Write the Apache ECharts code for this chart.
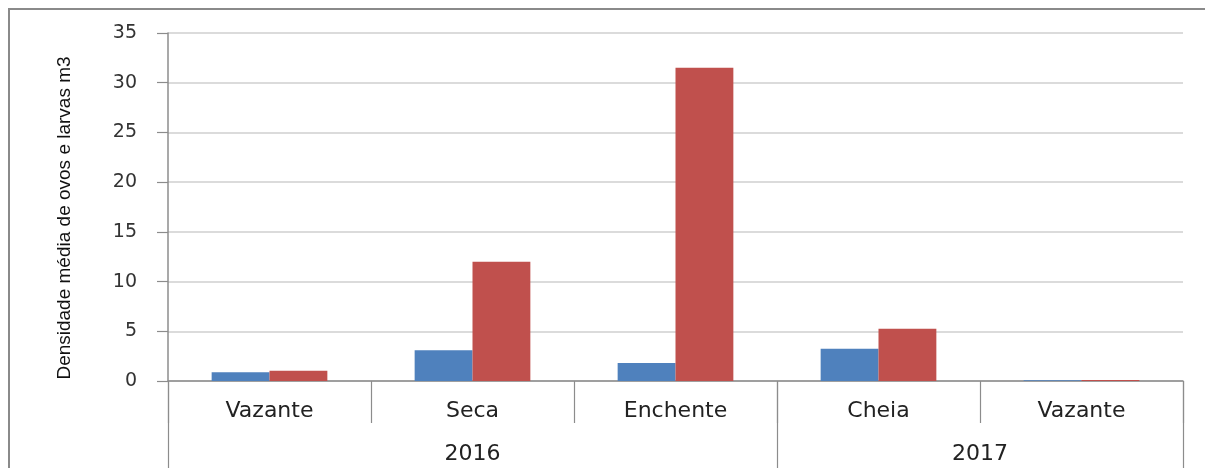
<!DOCTYPE html>
<html>
<head>
<meta charset="utf-8">
<script src="https://cdn.jsdelivr.net/npm/echarts@6/dist/echarts.min.js"></script>
<style>
  html, body { margin: 0; padding: 0; background: #fff; }
  #frame {
    position: absolute; left: 8px; top: 8px; width: 1197px; height: 460px;
    border-left: 2px solid #8a8a8a; border-top: 2px solid #8a8a8a;
  }
  #chart { position: absolute; left: 0; top: 0; width: 1205px; height: 468px; }
</style>
</head>
<body>
<div id="frame"></div>
<div id="chart"></div>
<script>
// Seasons sampled, grouped by year
const seasons = ['Vazante', 'Seca', 'Enchente', 'Cheia', 'Vazante'];
const years = ['2016', '2017'];
const yearSpans = [3, 2];          // number of seasons in each year

// Mean density of eggs and larvae per m3
const ovos   = [0.87, 3.1, 1.8, 3.25, 0.08];
const larvas = [1.04, 12.0, 31.5, 5.25, 0.1];

const yTicks = [0, 5, 10, 15, 20, 25, 30, 35];

// Year group boundaries and centres on the 0..n season scale
const yearBounds = [0];
const yearCenters = [];
yearSpans.forEach(function (s) {
  const start = yearBounds[yearBounds.length - 1];
  yearCenters.push(start + s / 2);
  yearBounds.push(start + s);
});

const axisGray = '#8c8c8c';
const labelFont = '"DejaVu Sans", Verdana, sans-serif';

const chart = echarts.init(document.getElementById('chart'));
chart.setOption({
  animation: false,
  grid: { left: 168, right: 22, top: 33, bottom: 87, containLabel: false },
  xAxis: [
    {
      type: 'category',
      data: seasons,
      position: 'bottom',
      axisLine: { show: true, lineStyle: { color: axisGray, width: 1.5 } },
      axisTick: { show: true, interval: 0, length: 42, lineStyle: { color: axisGray, width: 1.2 } },
      axisLabel: { interval: 0, margin: 19, fontSize: 22, color: '#222', fontFamily: labelFont },
      splitLine: { show: false }
    },
    {
      type: 'value',
      min: 0,
      max: seasons.length,
      position: 'bottom',
      offset: 0,
      axisLine: { show: false },
      splitLine: { show: false },
      axisTick: { show: true, customValues: yearBounds, length: 87, lineStyle: { color: axisGray, width: 1.2 } },
      axisLabel: {
        customValues: yearCenters,
        margin: 62, fontSize: 22, color: '#222', fontFamily: labelFont,
        formatter: function (v) {
          const i = yearCenters.indexOf(v);
          return i >= 0 ? years[i] : '';
        }
      }
    }
  ],
  yAxis: {
    type: 'value',
    min: yTicks[0],
    max: yTicks[yTicks.length - 1],
    interval: 5,
    name: 'Densidade média de ovos e larvas m3',
    nameLocation: 'middle',
    nameGap: 94,
    nameTextStyle: {
      fontSize: 19, color: '#111',
      padding: [0, 22, 0, 0],
      fontFamily: '"Liberation Sans Narrow", "Liberation Sans", Arial, sans-serif'
    },
    axisLine: { show: true, lineStyle: { color: axisGray, width: 1.5 } },
    axisTick: { show: true, length: 11, inside: false, lineStyle: { color: axisGray, width: 1.2 } },
    axisLabel: { margin: 31, fontSize: 19, color: '#333', fontFamily: labelFont },
    splitLine: { show: true, lineStyle: { color: '#cfcfcf', width: 1.5 } }
  },
  series: [
    {
      name: 'Ovos', type: 'bar', data: ovos, xAxisIndex: 0,
      barGap: 0, barCategoryGap: '43%',
      itemStyle: { color: '#4F81BD' }
    },
    {
      name: 'Larvas', type: 'bar', data: larvas, xAxisIndex: 0,
      barGap: 0, barCategoryGap: '43%',
      itemStyle: { color: '#C0504D' }
    }
  ]
});
</script>
</body>
</html>
